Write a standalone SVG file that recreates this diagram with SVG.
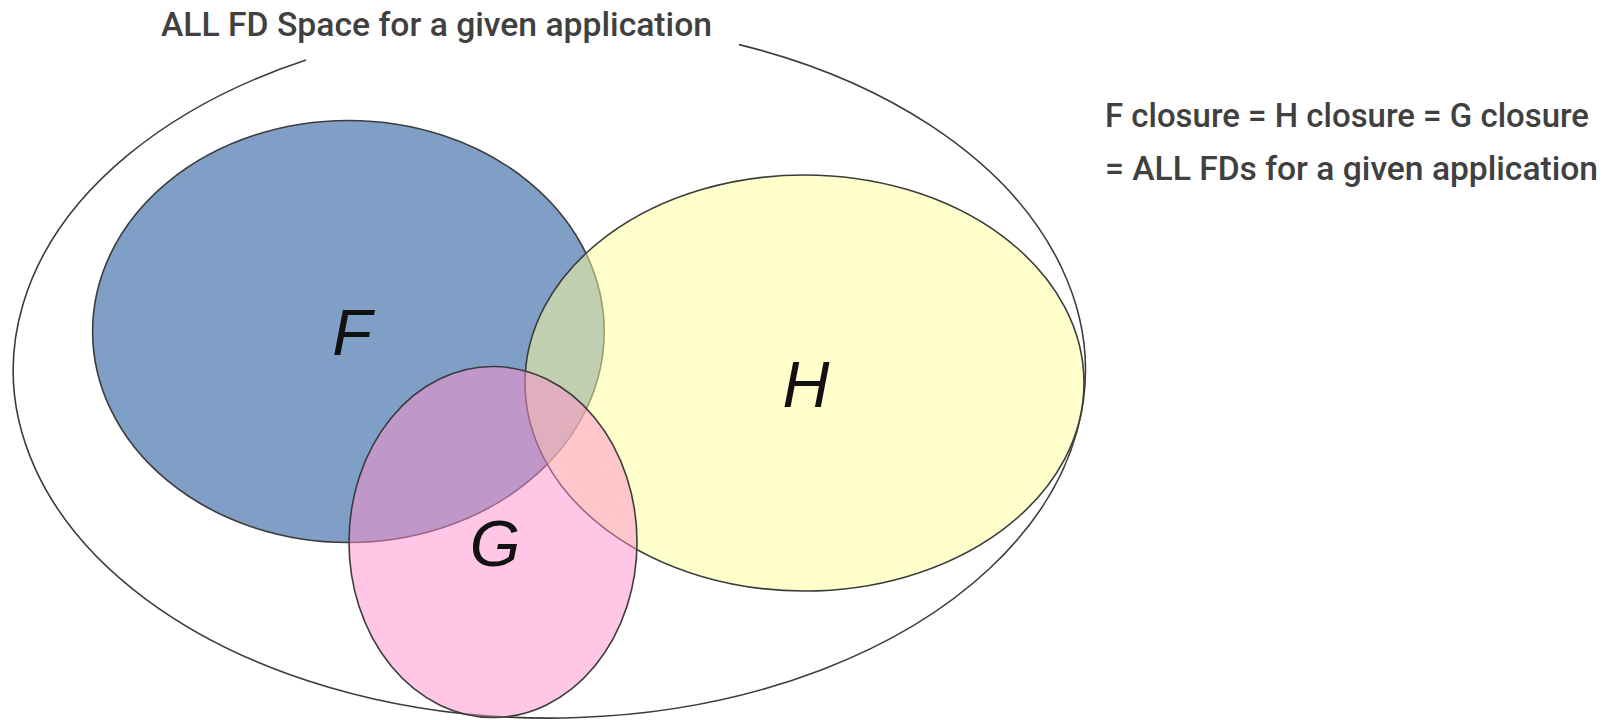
<svg xmlns="http://www.w3.org/2000/svg" width="1614" height="720" viewBox="0 0 1614 720">
<style>
.edge{stroke:#3c3c3c;stroke-width:1.6;}
.lbl{font-family:"Liberation Sans",Arial,sans-serif;font-style:italic;font-size:65px;fill:#111;text-anchor:middle;}
.cap{font-family:"Roboto","Liberation Sans",sans-serif;font-size:34px;font-weight:500;fill:#404040;}
</style>
<rect width="1614" height="720" fill="#ffffff"/>
<g id="universe">
<path class="edge" fill="none" d="M 739 44.6 A 536 348 0 1 1 306 60"/>
<text class="cap" x="161" y="36" textLength="551" lengthAdjust="spacingAndGlyphs">ALL FD Space for a given application</text>
</g>
<g id="F">
<ellipse class="edge" cx="348.4" cy="331.5" rx="255.8" ry="211" fill="#7f9fc7"/>
<text class="lbl" x="352" y="355">F</text>
</g>
<g id="H">
<ellipse class="edge" cx="804.5" cy="383" rx="279.5" ry="208" fill="#ffff9a" fill-opacity="0.5"/>
<text class="lbl" x="806" y="407">H</text>
</g>
<g id="G">
<ellipse class="edge" cx="493" cy="542" rx="144" ry="175.5" fill="#ff8fcc" fill-opacity="0.5"/>
<text class="lbl" x="495" y="566">G</text>
</g>
<g id="note">
<text class="cap" x="1105" y="126.7" textLength="484" lengthAdjust="spacingAndGlyphs">F closure = H closure = G closure</text>
<text class="cap" x="1105" y="180" textLength="493" lengthAdjust="spacingAndGlyphs">= ALL FDs for a given application</text>
</g>
<g id="connectors"></g>
</svg>
